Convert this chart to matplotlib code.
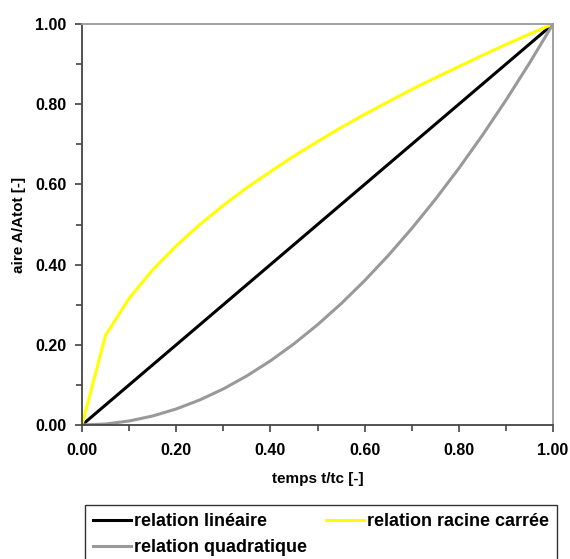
import matplotlib
matplotlib.use("Agg")
import matplotlib.pyplot as plt
from matplotlib.ticker import MultipleLocator

plt.rcParams['font.family'] = ['Liberation Sans', 'DejaVu Sans']
plt.rcParams['font.weight'] = 'bold'

t = [0.0, 0.05, 0.10, 0.15, 0.20, 0.25, 0.30, 0.35, 0.40, 0.45, 0.50,
     0.55, 0.60, 0.65, 0.70, 0.75, 0.80, 0.85, 0.90, 0.95, 1.0]
lineaire = [0.0, 0.05, 0.10, 0.15, 0.20, 0.25, 0.30, 0.35, 0.40, 0.45, 0.50,
            0.55, 0.60, 0.65, 0.70, 0.75, 0.80, 0.85, 0.90, 0.95, 1.0]
racine = [0.0, 0.224, 0.316, 0.387, 0.447, 0.500, 0.548, 0.592, 0.632, 0.671, 0.707,
          0.742, 0.775, 0.806, 0.837, 0.866, 0.894, 0.922, 0.949, 0.975, 1.0]
quadratique = [0.0, 0.0025, 0.010, 0.0225, 0.040, 0.0625, 0.090, 0.1225, 0.160, 0.2025, 0.250,
               0.3025, 0.360, 0.4225, 0.490, 0.5625, 0.640, 0.7225, 0.810, 0.9025, 1.0]

fig = plt.figure(figsize=(5.70, 5.59), dpi=100)
ax = fig.add_axes([0.1439, 0.2397, 0.8263, 0.7173])

l1, = ax.plot(t, lineaire, color='black', lw=2.2, label='relation linéaire')
l3, = ax.plot(t, racine, color='#FFFF00', lw=2.2, label='relation racine carrée')
l2, = ax.plot(t, quadratique, color='#999999', lw=2.2, label='relation quadratique')

ax.set_xlim(0, 1)
ax.set_ylim(0, 1)
ax.xaxis.set_major_locator(MultipleLocator(0.2))
ax.yaxis.set_major_locator(MultipleLocator(0.2))
ax.xaxis.set_minor_locator(MultipleLocator(0.1))
ax.yaxis.set_minor_locator(MultipleLocator(0.1))
ax.xaxis.set_major_formatter(lambda v, p: f"{v:.2f}")
ax.yaxis.set_major_formatter(lambda v, p: f"{v:.2f}")
ax.tick_params(which='both', direction='out', color='#444444', width=1.2, labelsize=11.5)
ax.tick_params(which='major', length=5)
ax.tick_params(which='minor', length=4)
ax.tick_params(axis='x', pad=8)
ax.tick_params(axis='y', pad=6)
for s in ['left', 'bottom']:
    ax.spines[s].set_color('#444444')
    ax.spines[s].set_linewidth(1.3)
for s in ['top', 'right']:
    ax.spines[s].set_color('#999999')
    ax.spines[s].set_linewidth(1.3)
for lab in ax.get_xticklabels() + ax.get_yticklabels():
    lab.set_fontweight('bold')

ax.set_xlabel('temps t/tc [-]', fontsize=11, fontweight='bold', labelpad=10)
ax.set_ylabel('aire A/Atot [-]', fontsize=11, fontweight='bold', labelpad=7)

leg = fig.legend(handles=[l1, l2, l3], ncol=2, mode='expand',
                 bbox_to_anchor=(0.149, -0.0034, 0.828, 0.1), loc='upper left',
                 fontsize=13, frameon=True, fancybox=False, handlelength=2.1,
                 handletextpad=0.15, borderpad=0.45, labelspacing=0.5, borderaxespad=0)
leg.get_frame().set_edgecolor('black')
leg.get_frame().set_linewidth(1.0)
for txt in leg.get_texts():
    txt.set_fontweight('bold')

fig.savefig('out.png', dpi=100)
